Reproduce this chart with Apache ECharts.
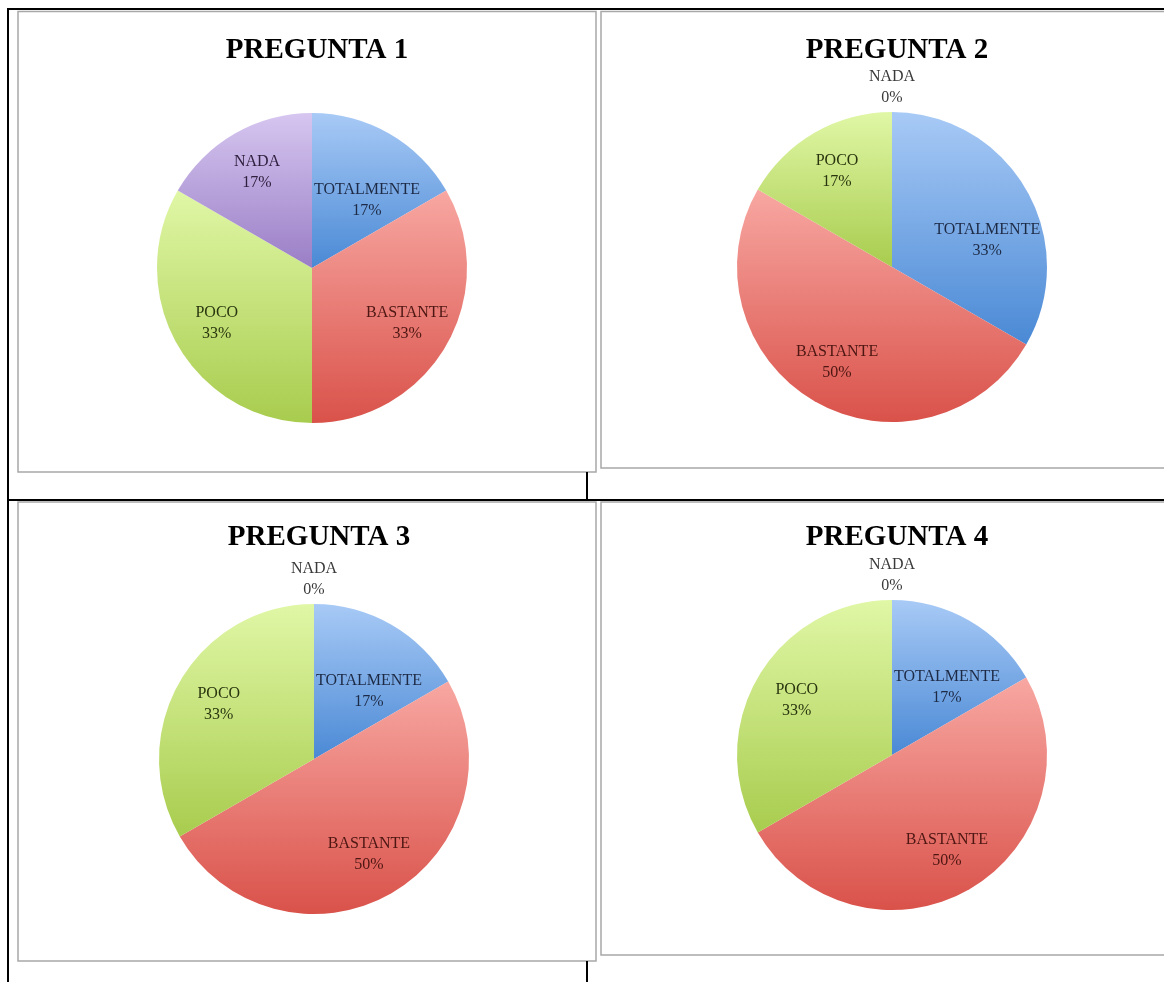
<!DOCTYPE html>
<html lang="es">
<head>
<meta charset="UTF-8">
<title>Preguntas</title>
<script src="https://cdn.jsdelivr.net/npm/echarts@6/dist/echarts.min.js"></script>
<style>
  html, body { margin: 0; padding: 0; background: #fff; }
</style>
</head>
<body>
<div id="main" style="width:1164px;height:982px;"></div>
<script type="text/javascript">
// answer categories, in drawing order (clockwise from 12 o'clock)
const categories = ['TOTALMENTE', 'BASTANTE', 'POCO', 'NADA'];
const chartTitles = ['PREGUNTA 1', 'PREGUNTA 2', 'PREGUNTA 3', 'PREGUNTA 4'];

// number of answers per category (6 respondents)
const pregunta1 = [1, 2, 2, 1];
const pregunta2 = [2, 3, 1, 0];
const pregunta3 = [1, 3, 2, 0];
const pregunta4 = [1, 3, 2, 0];
const allData = [pregunta1, pregunta2, pregunta3, pregunta4];

// layout of the four panels
const centers = [[312, 268], [892, 267], [314, 759], [892, 755]];
const radius = 155;

// slice gradients (top, bottom) and label colours
const sliceColors = [
  ['#a8caf6', '#4a89d5'],
  ['#f8a7a2', '#d9524a'],
  ['#e0f7a6', '#a8cc4e'],
  ['#d6c6f0', '#9a7ec6']
];
const labelColors = ['#1d2a45', '#4d1612', '#2a350e', '#30203f'];
// the first slice's label sits lower, nearer the centre, like the original
const labelShiftY = [28, 0, 0, 0];

const font = 'Liberation Serif';

let myChart = echarts.init(document.getElementById('main'));

let titles = [];
let series = [];

allData.forEach((values, i) => {
  titles.push({
    text: chartTitles[i],
    left: centers[i][0],
    top: i < 2 ? 31 : 518,
    textAlign: 'center',
    textStyle: { fontFamily: font, fontWeight: 'bold', fontSize: 29, color: '#000' }
  });

  // the coloured pie
  series.push({
    type: 'pie',
    center: centers[i],
    radius: [0, radius],
    silent: true,
    label: { show: false },
    labelLine: { show: false },
    data: values.map((v, k) => ({
      name: categories[k],
      value: v,
      itemStyle: {
        color: new echarts.graphic.LinearGradient(0, 0, 0, 1, [
          { offset: 0, color: sliceColors[k][0] },
          { offset: 1, color: sliceColors[k][1] }
        ])
      }
    }))
  });

  // transparent copy that only carries the labels a bit further out
  series.push({
    type: 'pie',
    center: centers[i],
    radius: [radius * 0.38, radius],
    silent: true,
    percentPrecision: 0,
    itemStyle: { color: 'rgba(0,0,0,0)' },
    labelLine: { show: false },
    label: {
      show: true,
      position: 'inside',
      formatter: '{b}\n{d}%',
      fontFamily: font,
      fontSize: 16,
      lineHeight: 21
    },
    labelLayout: (params) => {
      if (values[params.dataIndex] === 0) {
        return {
          x: params.rect.x + params.rect.width / 2,
          y: params.rect.y - 25,
          align: 'center',
          verticalAlign: 'middle'
        };
      }
      return { dy: labelShiftY[params.dataIndex] };
    },
    data: values.map((v, k) => ({
      name: categories[k],
      value: v,
      label: { color: v === 0 ? '#3a3a3a' : labelColors[k] }
    }))
  });
});

// table and frame lines around the panels
const gray = { stroke: '#a8a8a8', lineWidth: 1.5, fill: null };
const black = { stroke: '#000', lineWidth: 2 };
const graphics = [
  { type: 'rect', shape: { x: 18, y: 11.5, width: 578, height: 460.5 }, style: gray },
  { type: 'rect', shape: { x: 601, y: 11.5, width: 620, height: 456.5 }, style: gray },
  { type: 'rect', shape: { x: 18, y: 502, width: 578, height: 459 }, style: gray },
  { type: 'rect', shape: { x: 601, y: 502, width: 620, height: 453 }, style: gray },
  { type: 'line', shape: { x1: 7, y1: 9, x2: 1164, y2: 9 }, style: black },
  { type: 'line', shape: { x1: 8, y1: 9, x2: 8, y2: 982 }, style: black },
  { type: 'line', shape: { x1: 7, y1: 500, x2: 1164, y2: 500 }, style: black },
  { type: 'line', shape: { x1: 587, y1: 472, x2: 587, y2: 500 }, style: black },
  { type: 'line', shape: { x1: 587, y1: 961, x2: 587, y2: 982 }, style: black }
].map((g) => Object.assign({ silent: true, z: -1 }, g));

myChart.setOption({
  animation: false,
  title: titles,
  graphic: graphics,
  series: series
});
</script>
</body>
</html>
